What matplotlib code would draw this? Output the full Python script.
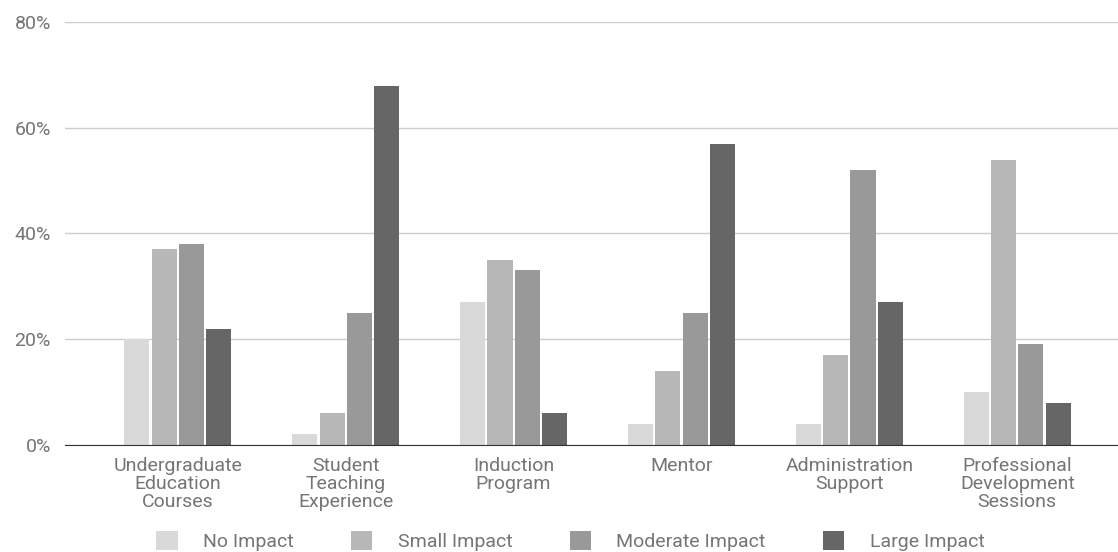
import matplotlib.pyplot as plt
import numpy as np
from matplotlib.ticker import FuncFormatter

plt.rcParams['font.family'] = ['Roboto', 'DejaVu Sans']

categories = ["Undergraduate\nEducation\nCourses", "Student\nTeaching\nExperience",
              "Induction\nProgram", "Mentor", "Administration\nSupport",
              "Professional\nDevelopment\nSessions"]
series_names = ["No Impact", "Small Impact", "Moderate Impact", "Large Impact"]
no_impact = [20, 2, 27, 4, 4, 10]
small_impact = [37, 6, 35, 14, 17, 54]
moderate_impact = [38, 25, 33, 25, 52, 19]
large_impact = [22, 68, 6, 57, 27, 8]
colors = ["#d9d9d9", "#b7b7b7", "#999999", "#666666"]

fig = plt.figure(figsize=(11.18, 5.52), dpi=100)
ax = fig.add_axes([0.058, 0.194, 0.942, 0.766])

x = np.arange(len(categories))
w = 0.1625
all_series = [no_impact, small_impact, moderate_impact, large_impact]
for i, (vals, name, c) in enumerate(zip(all_series, series_names, colors)):
    ax.bar(x + (i - 1.5) * w, vals, width=w * 0.92, color=c, label=name, zorder=3)

ax.set_ylim(0, 80)
ax.set_xlim(-0.673, 5.60)
ax.set_yticks([0, 20, 40, 60, 80])
ax.yaxis.set_major_formatter(FuncFormatter(lambda v, p: f"{int(v)}%"))
ax.grid(axis='y', color='#cccccc', linewidth=1, zorder=0)
for s in ['top', 'right', 'left']:
    ax.spines[s].set_visible(False)
ax.spines['bottom'].set_color('#333333')
ax.spines['bottom'].set_zorder(4)
ax.tick_params(axis='both', length=0, labelsize=14, labelcolor='#757575')
ax.tick_params(axis='y', pad=10)
ax.tick_params(axis='x', pad=9)
ax.set_xticks(x)
ax.set_xticklabels(categories, linespacing=0.98)

ax.legend(loc='center', bbox_to_anchor=(0.480, -0.227), ncol=4, frameon=False,
          fontsize=14, labelcolor='#757575', handlelength=1.1, handleheight=1.1,
          columnspacing=2.95, handletextpad=1.3)

fig.savefig("out.png", dpi=100)
